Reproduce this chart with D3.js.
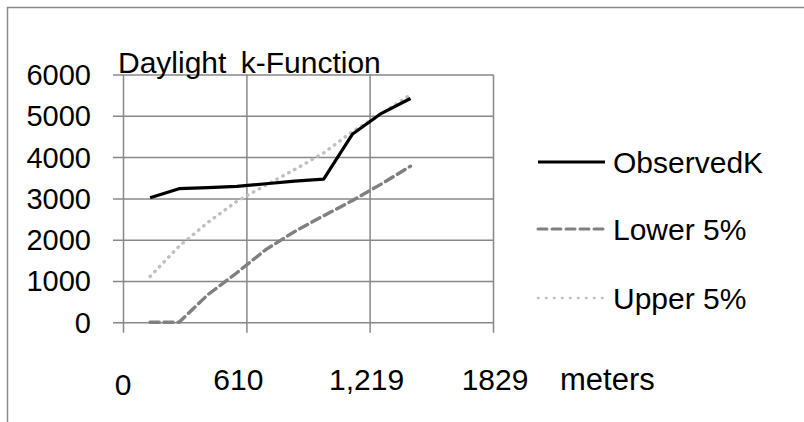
<!DOCTYPE html>
<html>
<head>
<meta charset="utf-8">
<script src="https://cdn.jsdelivr.net/npm/d3@7"></script>
<style>
  body { margin: 0; background: #fff; }
  text { font-family: "Liberation Sans", Arial, sans-serif; fill: #000; }
</style>
</head>
<body>
<div class="chart"></div>
<script>
// Daylight k-Function: observed K with lower / upper 5% envelopes

// distances (meters) of each evaluated band
var distances = [134, 277, 420, 563, 706, 849, 992, 1135, 1278, 1421];
var observedK = [3017, 3235, 3260, 3290, 3355, 3420, 3465, 4560, 5060, 5420];
var lower5 = [0, 0, 670, 1200, 1760, 2200, 2580, 2950, 3350, 3780];
var upper5 = [1110, 1840, 2420, 2930, 3320, 3700, 4100, 4620, 5050, 5510];

var seriesNames = ["ObservedK", "Lower 5%", "Upper 5%"];
var yTicks = [0, 1000, 2000, 3000, 4000, 5000, 6000];
var xTicks = [0, 610, 1219, 1829];
var xTickLabels = ["0", "610", "1,219", "1829"];

var svgWidth = 804;
var svgHeight = 422;

// plot box
var plotLeft = 123, plotRight = 493, plotTop = 74.5, plotBottom = 322.3;

var svg = d3.select(".chart")
  .append("svg")
  .attr("width", svgWidth)
  .attr("height", svgHeight);

// outer chart border (only top and left visible)
svg.append("rect")
  .attr("x", 7.5)
  .attr("y", 7.5)
  .attr("width", 900)
  .attr("height", 500)
  .attr("fill", "none")
  .attr("stroke", "#8a8a8a")
  .attr("stroke-width", 1.5);

var x = d3.scaleLinear().domain([0, 1829]).range([plotLeft, plotRight]);
var y = d3.scaleLinear().domain([0, 6000]).range([plotBottom, plotTop]);

// horizontal gridlines (with tick stubs on the left)
var yAxis = d3.axisLeft(y)
  .tickValues(yTicks)
  .tickSize((plotRight - plotLeft) + 10)
  .tickFormat("");

svg.append("g")
  .attr("transform", "translate(" + plotRight + ",0)")
  .call(yAxis)
  .call(function(g) { g.select(".domain").remove(); })
  .selectAll("line")
  .attr("stroke", "#888")
  .attr("stroke-width", 1.5);

// vertical gridlines (with tick stubs below)
var xAxis = d3.axisBottom(x)
  .tickValues(xTicks)
  .tickSize(-(plotBottom - plotTop) - 10.4)
  .tickFormat("");

svg.append("g")
  .attr("transform", "translate(0," + (plotBottom + 10.4) + ")")
  .call(xAxis)
  .call(function(g) { g.select(".domain").remove(); })
  .selectAll("line")
  .attr("stroke", "#888")
  .attr("stroke-width", 1.5);

// y tick labels
svg.selectAll(".ylab")
  .data(yTicks)
  .enter().append("text")
  .attr("class", "ylab")
  .attr("x", 91)
  .attr("y", function(d) { return y(d); })
  .attr("dy", "0.36em")
  .attr("text-anchor", "end")
  .attr("font-size", 29)
  .text(function(d) { return d; });

// x tick labels (the first one sits a bit lower, like the original)
var xNudge = [0, -8, -3, 2];
svg.selectAll(".xlab")
  .data(xTicks)
  .enter().append("text")
  .attr("class", "xlab")
  .attr("x", function(d, i) { return x(d) + xNudge[i]; })
  .attr("y", function(d, i) { return i === 0 ? 395 : 390; })
  .attr("text-anchor", "middle")
  .attr("font-size", 30)
  .text(function(d, i) { return xTickLabels[i]; });

svg.append("text")
  .attr("x", 560)
  .attr("y", 390)
  .attr("font-size", 31)
  .text("meters");

// title
svg.append("text")
  .attr("x", 118)
  .attr("y", 73)
  .attr("font-size", 30)
  .attr("word-spacing", 6)
  .text("Daylight k-Function");

var line = d3.line()
  .x(function(d) { return x(d[0]); })
  .y(function(d) { return y(d[1]); });

var styles = [
  { color: "#000000", dash: null, cap: "butt", width: 3.2 },
  { color: "#808080", dash: "9,5", cap: "round", width: 3.4 },
  { color: "#c0c0c0", dash: "0.5,6.2", cap: "round", width: 3.4 }
];

var allSeries = [observedK, lower5, upper5];

// draw upper first, then lower, then observed on top
[2, 1, 0].forEach(function(k) {
  var pts = distances.map(function(d, i) { return [d, allSeries[k][i]]; });
  svg.append("path")
    .datum(pts)
    .attr("d", line)
    .attr("fill", "none")
    .attr("stroke", styles[k].color)
    .attr("stroke-width", styles[k].width)
    .attr("stroke-linecap", styles[k].cap)
    .attr("stroke-linejoin", "round")
    .attr("stroke-dasharray", styles[k].dash);
});

// legend
var legendY = [162, 229, 298];
var legend = svg.selectAll(".legend")
  .data(seriesNames)
  .enter().append("g")
  .attr("class", "legend")
  .attr("transform", function(d, i) { return "translate(0," + legendY[i] + ")"; });

legend.append("line")
  .attr("x1", 538)
  .attr("x2", 605)
  .attr("stroke", function(d, i) { return styles[i].color; })
  .attr("stroke-width", function(d, i) { return i === 2 ? 2.6 : 3; })
  .attr("stroke-linecap", function(d, i) { return styles[i].cap; })
  .attr("stroke-dasharray", function(d, i) { return i === 2 ? "0.5,7.5" : styles[i].dash; });

legend.append("text")
  .attr("x", 613)
  .attr("dy", "0.36em")
  .attr("font-size", 30)
  .text(function(d) { return d; });
</script>
</body>
</html>
